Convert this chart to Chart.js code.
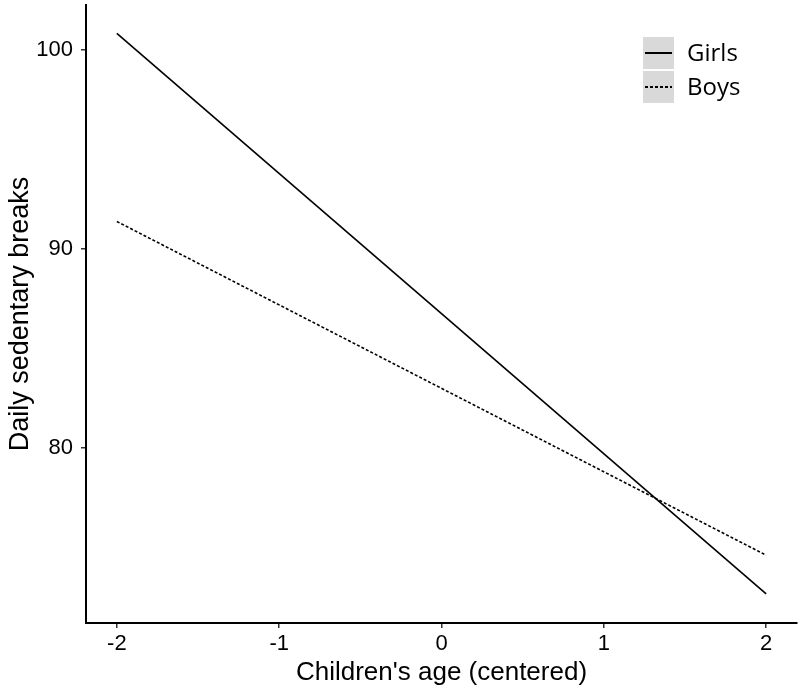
<!DOCTYPE html>
<html>
<head>
<meta charset="utf-8">
<script src="https://cdn.jsdelivr.net/npm/chart.js@4"></script>
<style>
  html, body { margin: 0; padding: 0; background: #fff; }
  #wrap { width: 800px; height: 691px; }
</style>
</head>
<body>
<div id="wrap"><canvas id="sedChart" width="800" height="691"></canvas></div>
<script>
// values
const ages = [-2, 2];
const girls = [100.84, 72.64];
const boys = [91.38, 74.59];
const seriesNames = ['Girls', 'Boys'];
const xTickValues = [-2, -1, 0, 1, 2];
const yTickValues = [80, 90, 100];

function toPoints(ys) {
  return ages.map((x, i) => ({ x, y: ys[i] }));
}

// grey keyed legend, like the ggplot one
const boxLegend = {
  id: 'boxLegend',
  afterDraw(chart) {
    const ctx = chart.ctx;
    const left = 643, top = 37, w = 31, h = 32, gap = 2;
    ctx.save();
    chart.data.datasets.forEach((ds, i) => {
      const y = top + i * (h + gap);
      ctx.fillStyle = '#d9d9d9';
      ctx.fillRect(left, y, w, h);
      ctx.strokeStyle = '#000';
      ctx.lineWidth = 2;
      ctx.setLineDash(ds.borderDash || []);
      ctx.beginPath();
      ctx.moveTo(left + 2, y + h / 2);
      ctx.lineTo(left + w - 2, y + h / 2);
      ctx.stroke();
      ctx.setLineDash([]);
      ctx.fillStyle = '#000';
      ctx.font = '24px "Open Sans", sans-serif';
      ctx.textBaseline = 'middle';
      ctx.fillText(ds.label, left + w + 13, y + h / 2 + 1);
    });
    ctx.restore();
  }
};

const tickFont = { family: '"Liberation Sans", Arial, sans-serif', size: 22 };

const ctx = document.getElementById('sedChart').getContext('2d');
new Chart(ctx, {
  type: 'line',
  data: {
    datasets: [
      {
        label: seriesNames[0],
        data: toPoints(girls),
        borderColor: '#000',
        borderWidth: 1.6,
        pointRadius: 0,
        fill: false
      },
      {
        label: seriesNames[1],
        data: toPoints(boys),
        borderColor: '#000',
        borderWidth: 1.6,
        borderDash: [3, 2],
        pointRadius: 0,
        fill: false
      }
    ]
  },
  options: {
    responsive: false,
    animation: false,
    layout: { padding: { top: 5, right: 3, left: 0, bottom: 0 } },
    plugins: {
      legend: { display: false },
      tooltip: { enabled: false }
    },
    scales: {
      x: {
        type: 'linear',
        min: -2.19,
        max: 2.19,
        afterBuildTicks: s => { s.ticks = xTickValues.map(v => ({ value: v })); },
        afterFit: s => { s.height = 68; s.paddingLeft = 0; s.paddingRight = 0; },
        grid: { drawOnChartArea: false, drawTicks: true, tickLength: 5, color: '#333', lineWidth: 1.5 },
        border: { display: true, color: '#000', width: 2 },
        ticks: {
          color: '#000',
          padding: 3,
          maxRotation: 0,
          font: tickFont,
          callback: v => String(v)
        },
        title: {
          display: true,
          text: "Children's age (centered)",
          color: '#000',
          padding: { top: 0, bottom: 3 },
          font: { family: '"Liberation Sans", Arial, sans-serif', size: 26 }
        }
      },
      y: {
        min: 71.18,
        max: 102.27,
        afterBuildTicks: s => { s.ticks = yTickValues.map(v => ({ value: v })); },
        afterFit: s => { s.width = 86; s.paddingTop = 0; s.paddingBottom = 0; },
        grid: { drawOnChartArea: false, drawTicks: true, tickLength: 5, color: '#333', lineWidth: 1.5 },
        border: { display: true, color: '#000', width: 2 },
        ticks: {
          color: '#000',
          padding: 8,
          font: tickFont,
          callback: v => String(v)
        },
        title: {
          display: true,
          text: 'Daily sedentary breaks',
          color: '#000',
          padding: { top: 4, bottom: 0 },
          font: { family: '"Liberation Sans", Arial, sans-serif', size: 27 }
        }
      }
    }
  },
  plugins: [boxLegend]
});
</script>
</body>
</html>
